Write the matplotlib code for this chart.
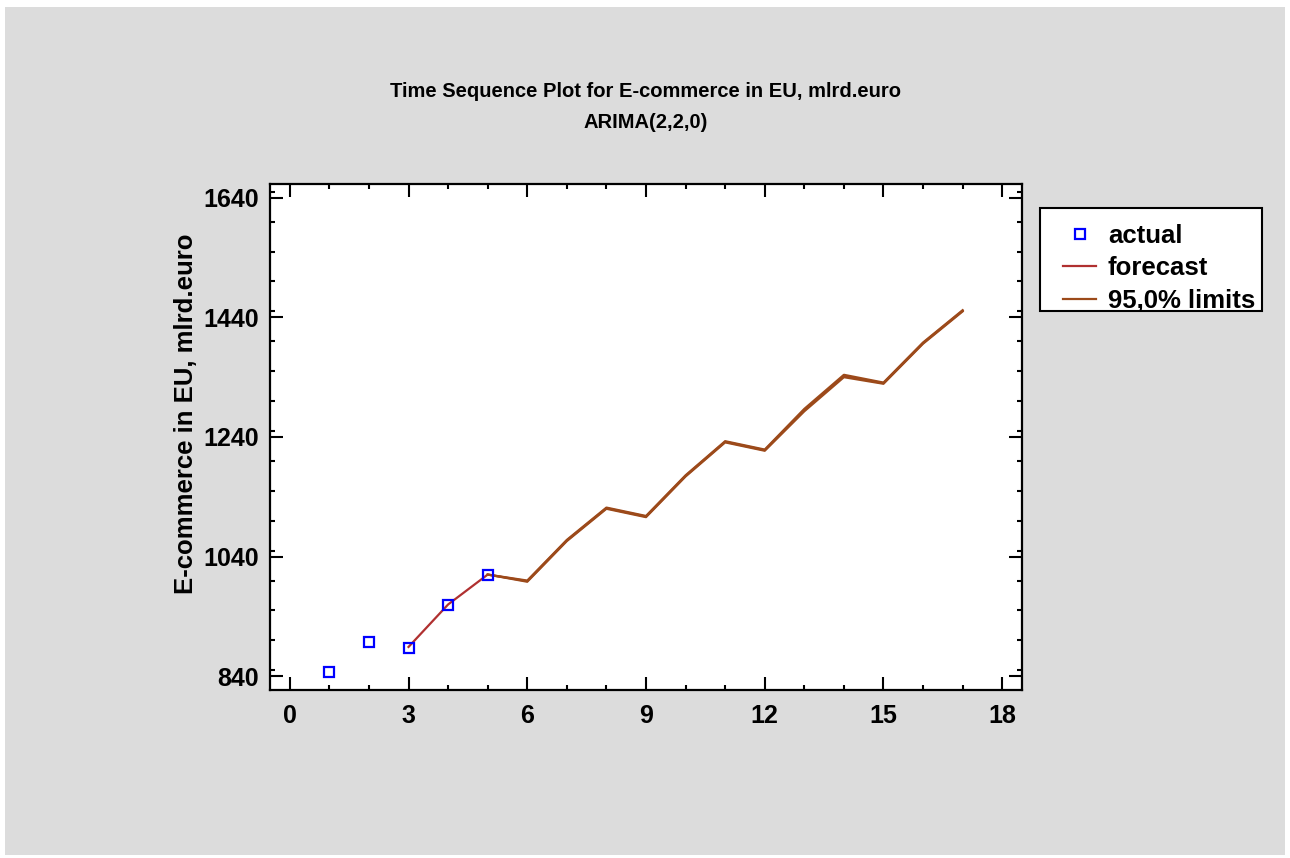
import matplotlib
matplotlib.use("Agg")
import matplotlib.pyplot as plt
from matplotlib.patches import Rectangle
from matplotlib.ticker import MultipleLocator

plt.rcParams['font.family'] = ['Liberation Sans', 'DejaVu Sans']
plt.rcParams['font.weight'] = 'bold'

# data
actual_t = [1, 2, 3, 4, 5]
actual_v = [847, 898, 887, 959, 1009]

fit_t = [3, 4, 5, 6, 7, 8, 9, 10, 11, 12, 13, 14, 15, 16, 17]
fit_v = [889, 960, 1010, 999, 1067, 1121, 1107, 1175, 1232, 1218, 1285, 1342, 1330, 1397, 1451]

lim_t = [5, 6, 7, 8, 9, 10, 11, 12, 13, 14, 15, 16, 17]
lower_v = [1010, 998, 1066, 1120, 1106, 1174, 1231, 1217, 1283, 1340, 1329, 1396, 1450]
upper_v = [1010, 1000, 1068, 1122, 1108, 1176, 1233, 1219, 1287, 1344, 1331, 1398, 1452]

title1 = "Time Sequence Plot for E-commerce in EU, mlrd.euro"
title2 = "ARIMA(2,2,0)"
ylabel = "E-commerce in EU, mlrd.euro"

W, H = 1290, 858
fig = plt.figure(figsize=(12.9, 8.58), dpi=100, facecolor='white')
fig.patches.append(Rectangle((5 / W, 3 / H), 1280 / W, 848 / H,
                             transform=fig.transFigure, facecolor='#dcdcdc',
                             edgecolor='none', zorder=-10))
# legend box
fig.patches.append(Rectangle((1040 / W, 1 - 311 / H), 222 / W, 103 / H,
                             transform=fig.transFigure, facecolor='white',
                             edgecolor='black', lw=1.5, zorder=-5))

ax = fig.add_axes([270 / W, 1 - 690 / H, 752 / W, 506 / H])

ax.plot(actual_t, actual_v, 's', ms=7.2, mfc='none', mec='#0000ff', mew=1.6,
        linestyle='none', label='actual', zorder=4)
ax.plot(fit_t, fit_v, color='#b03030', lw=1.6, label='forecast', zorder=2)
ax.plot(lim_t, lower_v, color='#9c4a1a', lw=1.6, label='95,0% limits', zorder=3)
ax.plot(lim_t, upper_v, color='#9c4a1a', lw=1.6, zorder=3)

ax.set_xlim(-0.5, 18.5)
ax.set_ylim(817, 1663)
ax.xaxis.set_major_locator(MultipleLocator(3))
ax.xaxis.set_minor_locator(MultipleLocator(1))
ax.yaxis.set_minor_locator(MultipleLocator(50))
ax.set_yticks([840, 1040, 1240, 1440, 1640])

ax.tick_params(which='both', direction='in', top=True, right=True, width=1.5)
ax.tick_params(which='major', length=9.5, labelsize=18)
ax.tick_params(axis='x', which='major', pad=10)
ax.tick_params(axis='y', which='major', pad=8)
ax.tick_params(which='minor', length=3.6)
for sp in ax.spines.values():
    sp.set_linewidth(1.6)

ax.set_ylabel(ylabel, fontsize=18.5, fontweight='bold')
ax.yaxis.set_label_coords(-0.096, 0.545)

fig.text(646 / W, 1 - 97 / H, title1, ha='center', va='baseline',
         fontsize=14.5, fontweight='bold')
fig.text(646 / W, 1 - 128 / H, title2, ha='center', va='baseline',
         fontsize=14.5, fontweight='bold')

leg = fig.legend(loc='upper left', bbox_to_anchor=(1063 / W, 1 - 224 / H),
                 fontsize=18.5, frameon=False, handlelength=1.3,
                 handletextpad=0.45, labelspacing=0.33, borderpad=0,
                 borderaxespad=0)
for t in leg.get_texts():
    t.set_fontweight('bold')

fig.savefig('out.png', dpi=100, facecolor=fig.get_facecolor())
